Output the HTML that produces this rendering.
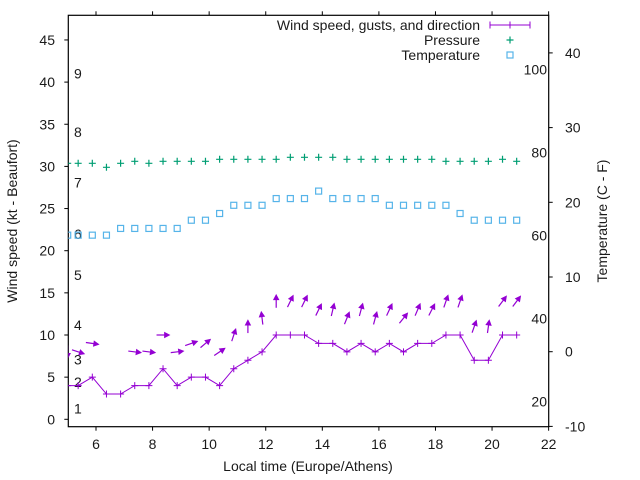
<!DOCTYPE html>
<html><head><meta charset="utf-8"><style>
html,body{margin:0;padding:0;background:#fff}
svg{display:block}
text{font-family:"Liberation Sans",sans-serif;font-size:14px;fill:#1a1a1a}
</style></head><body>
<svg id="chart" width="640" height="480" viewBox="0 0 640 480" xmlns="http://www.w3.org/2000/svg">
<g id="axes"></g>
<g id="marks"></g>
<g id="legend"></g>
</svg>
<script>
const times=[5.0,5.37,5.87,6.37,6.87,7.37,7.87,8.37,8.87,9.37,9.87,10.37,10.87,11.37,11.87,12.37,12.87,13.37,13.87,14.37,14.87,15.37,15.87,16.37,16.87,17.37,17.87,18.37,18.87,19.37,19.87,20.37,20.87];
const windSpeed=[4,4,5,3,3,4,4,6,4,5,5,4,6,7,8,10,10,10,9,9,8,9,8,9,8,9,9,10,10,7,7,10,10];
const gusts=[8,8,9,null,null,8,8,10,8,9,9,8,10,11,12,14,14,14,13,13,12,13,12,13,12,13,13,14,14,11,11,14,14];
const windDir=[-90,-18,-8,null,null,-7,-7,0,7,19,40,34,72,90,97,90,64,64,64,77,68,75,75,65,51,67,63,71,71,71,82,53,53];
const pressure=[1015,1015,1015,1013,1015,1016,1015,1016,1016,1016,1016,1017,1017,1017,1017,1017,1018,1018,1018,1018,1017,1017,1017,1017,1017,1017,1017,1016,1016,1016,1016,1017,1016];
const tempC=[15.6,15.6,15.6,15.6,16.5,16.5,16.5,16.5,16.5,17.6,17.6,18.5,19.6,19.6,19.6,20.5,20.5,20.5,21.5,20.5,20.5,20.5,20.5,19.6,19.6,19.6,19.6,19.6,18.5,17.6,17.6,17.6,17.6];
const xTicks=[6,8,10,12,14,16,18,20,22];
const yTicks=[0,5,10,15,20,25,30,35,40,45];
const y2Ticks=[-10,0,10,20,30,40];
const fLabels=[20,40,60,80,100];
const beaufort=[1.3,4.4,7.1,11.2,17.1,22,28.1,34.1,41];

const L=68.3,R=548.7,T=15.3,B=426.7;
const X=t=>67.7+(t-5)*28.29;
const Y=w=>419.3-w*8.43;
const Y2=c=>351.7-c*7.47;
const YP=p=>163.3-(p-1015)*2;
const NS="http://www.w3.org/2000/svg";
function el(tag,attrs,parent,txt){const e=document.createElementNS(NS,tag);for(const k in attrs)e.setAttribute(k,attrs[k]);if(txt!==undefined)e.textContent=txt;parent.appendChild(e);return e;}
const ax=document.getElementById('axes'),mk=document.getElementById('marks'),lg=document.getElementById('legend');

let fr=el('rect',{x:L,y:T,width:R-L,height:B-T,fill:'none',stroke:'#000','stroke-width':1.2},ax);


xTicks.forEach(t=>{
 let x=X(t);
 let l=el('line',{x1:x,y1:B,x2:x,y2:B+4,stroke:'#000'},ax);
 
 
 let l2=el('line',{x1:x,y1:T,x2:x,y2:T-4,stroke:'#000'},ax);
 
 
 let tx=el('text',{x:x,y:449,'text-anchor':'middle'},ax,String(t));
 
 
});
yTicks.forEach(v=>{
 let y=Y(v);
 let l=el('line',{x1:L,y1:y,x2:L-4,y2:y,stroke:'#000'},ax);
 
 
 let tx=el('text',{x:55,y:y+5,'text-anchor':'end'},ax,String(v));
 
 
});
y2Ticks.forEach(v=>{
 let y=Y2(v);
 let l=el('line',{x1:R,y1:y,x2:R+4,y2:y,stroke:'#000'},ax);
 
 
 let tx=el('text',{x:565,y:y+5,'text-anchor':'start'},ax,String(v));
 
 
});
fLabels.forEach(f=>{
 let y=Y2((f-32)*5/9);
 let tx=el('text',{x:547,y:y+5,'text-anchor':'end'},ax,String(f));
 
 
});
beaufort.forEach((w,i)=>{
 let tx=el('text',{x:74,y:Y(w)+5},ax,String(i+1));
 
 
});
let xt=el('text',{x:308,y:471,'text-anchor':'middle'},ax,'Local time (Europe/Athens)');


let yt=el('text',{x:0,y:0,'text-anchor':'middle',transform:'translate(17,221) rotate(-90)'},ax,'Wind speed (kt - Beaufort)');


let y2t=el('text',{x:0,y:0,'text-anchor':'middle',transform:'translate(607,221) rotate(-90)'},ax,'Temperature (C - F)');



const PURPLE='#9400d3',GREEN='#009e73',BLUE='#56b4e9';
const clip=el('clipPath',{id:'pc'},mk);
el('rect',{x:L,y:T,width:R-L,height:B-T},clip);
const g=el('g',{'clip-path':'url(#pc)'},mk);

// temperature
tempC.forEach((c,i)=>{
 let s=el('rect',{x:X(times[i])-3,y:Y2(c)-3,width:6,height:6,fill:'none',stroke:BLUE,'stroke-width':1.2},g);
 
 
});
// pressure
pressure.forEach((p,i)=>{
 let x=X(times[i]),y=YP(p);
 let pt=el('path',{d:`M${x-3.5},${y}H${x+3.5}M${x},${y-3.5}V${y+3.5}`,stroke:GREEN,'stroke-width':1.2},g);
 
 
});
// wind line
let d='M'+X(4.8)+','+Y(windSpeed[0]);
windSpeed.forEach((w,i)=>{d+=' L'+X(times[i])+','+Y(w);});
let wl=el('path',{d:d,fill:'none',stroke:PURPLE,'stroke-width':1},g);


windSpeed.forEach((w,i)=>{
 let x=X(times[i]),y=Y(w);
 let pt=el('path',{d:`M${x-3.5},${y}H${x+3.5}M${x},${y-3.5}V${y+3.5}`,stroke:PURPLE,'stroke-width':1},g);
 
 
});
// gust arrows
gusts.forEach((gv,i)=>{
 if(gv===null||windDir[i]===null)return;
 const a=windDir[i]*Math.PI/180,len=13,h=5,hw=2.6;
 const cx=X(times[i]),cy=Y(gv);
 const dx=Math.cos(a),dy=-Math.sin(a);
 const x1=cx-dx*len/2,y1=cy-dy*len/2,x2=cx+dx*len/2,y2=cy+dy*len/2;
 const bx=x2-dx*h,by=y2-dy*h;
 let grp=el('g',{},g);
 
 
 el('line',{x1:x1,y1:y1,x2:bx,y2:by,stroke:PURPLE,'stroke-width':1.2},grp);
 el('polygon',{points:`${x2},${y2} ${bx-dy*hw},${by+dx*hw} ${bx+dy*hw},${by-dx*hw}`,fill:PURPLE,stroke:PURPLE,'stroke-width':0.8},grp);
});

// legend
const rows=[['Wind speed, gusts, and direction',25],['Pressure',40],['Temperature',55]];
rows.forEach((r,i)=>{
 let tx=el('text',{x:480,y:r[1]+5,'text-anchor':'end'},lg,r[0]);
 
 
});
let ls=el('path',{d:'M490,25H530M490,21.5V28.5M510,21.5V28.5M530,21.5V28.5',stroke:PURPLE,'stroke-width':1,fill:'none'},lg);


let lp=el('path',{d:'M506.5,40H513.5M510,36.5V43.5',stroke:GREEN,'stroke-width':1.2},lg);


let lt=el('rect',{x:507,y:52,width:6,height:6,fill:'none',stroke:BLUE,'stroke-width':1.2},lg);


</script>
</body></html>
